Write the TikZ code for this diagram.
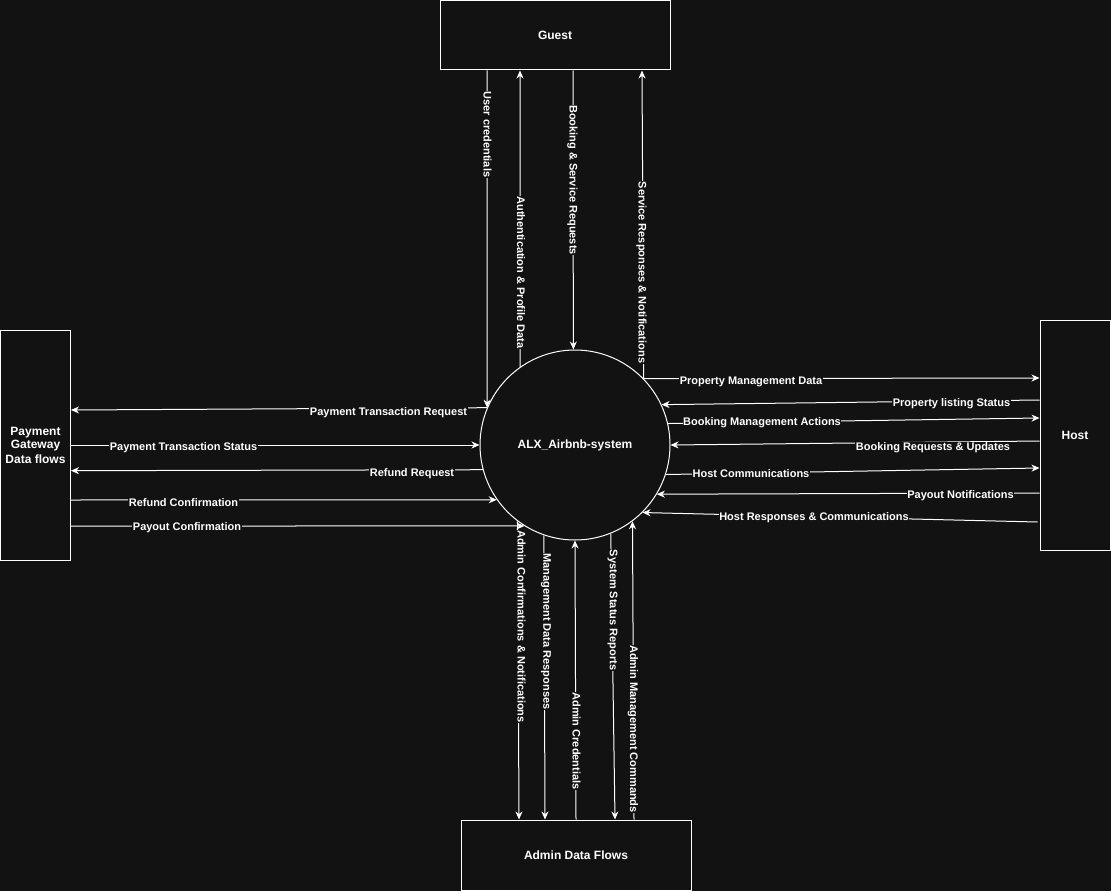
\documentclass[tikz,border=0pt]{standalone}
\usepackage{fontspec}
\setmainfont{Liberation Sans}
\usetikzlibrary{arrows.meta}
\definecolor{bg}{HTML}{121212}
\begin{document}
\begin{tikzpicture}[x=1pt,y=-1pt,
  box/.style={draw=white, line width=1pt, text=white, font=\bfseries\fontsize{12}{14.4}\selectfont, align=center, inner sep=0pt},
  flow/.style={draw=white, line width=1pt, -{Stealth[length=8pt,width=7pt,inset=2.5pt]}},
  lbl/.style={fill=bg, text=white, font=\bfseries\fontsize{11}{13}\selectfont, inner sep=0.6pt},
  vlbl/.style={lbl, rotate=-90}]
\fill[bg] (0,0) rectangle (1111,891);
\useasboundingbox (0,0) rectangle (1111,891);
% entities
\node[box, minimum width=230pt, minimum height=69pt] (guest) at (555,35.5) {\raisebox{-1pt}{Guest}};
\node[box, minimum width=70pt, minimum height=230pt] (pay) at (35.5,445) {\raisebox{-1.5pt}{\shortstack{Payment\\Gateway\\Data flows}}};
\node[box, minimum width=70pt, minimum height=230pt] (host) at (1075,435) {\raisebox{-1pt}{Host}};
\node[box, minimum width=230pt, minimum height=70pt] (admin) at (576,855) {\raisebox{-1pt}{Admin Data Flows}};
\node[box, circle, minimum size=190pt] (sys) at (575,445) {\raisebox{-1pt}{ALX\_Airbnb-system}};
% guest flows
\draw[flow] ([xshift=-68pt]guest.south) -- (sys.157.75) node[vlbl] at (487.5,134.5) {User credentials};
\draw[flow] (sys.125.4) -- ([xshift=-35pt]guest.south) node[vlbl] at (521,272.5) {Authentication \& Profile Data};
\draw[flow] ([xshift=18pt]guest.south) -- (sys.91.2) node[vlbl] at (572.5,180) {Booking \& Service Requests};
\draw[flow] (sys.44.3) -- ([xshift=87pt]guest.south) node[vlbl] at (641.5,272.5) {Service Responses \& Notifications};
% payment flows
\draw[flow] (sys.157.75) -- ([yshift=35pt]pay.east) node[lbl] at (388.5,412.5) {Payment Transaction Request};
\draw[flow] (pay.east) -- (sys.west) node[lbl] at (183.5,447.5) {Payment Transaction Status};
\draw[flow] (sys.195.7) -- ([yshift=-25.7pt]pay.east) node[lbl] at (412,474) {Refund Request};
\draw[flow] ([yshift=-55pt]pay.east) -- (sys.215.4) node[lbl] at (183.5,502.5) {Refund Confirmation};
\draw[flow] ([yshift=-81pt]pay.east) -- (sys.238.5) node[lbl] at (187,528) {Payout Confirmation};
% host flows
\draw[flow] (sys.44.3) -- ([yshift=57pt]host.west) node[lbl] at (751,381.5) {Property Management Data};
\draw[flow] ([yshift=35pt]host.west) -- (sys.25.2) node[lbl] at (951.5,404) {Property listing Status};
\draw[flow] (sys.13.3) -- ([yshift=17pt]host.west) node[lbl] at (762,423) {Booking Management Actions};
\draw[flow] ([yshift=-6pt]host.west) -- (sys.0) node[lbl] at (933,447.5) {Booking Requests \& Updates};
\draw[flow] (sys.342.9) -- ([yshift=-33pt]host.west) node[lbl] at (751,474) {Host Communications};
\draw[flow] ([yshift=-58pt]host.west) -- (sys.329.65) node[lbl] at (960.5,496) {Payout Notifications};
\draw[flow] ([xshift=-2pt,yshift=-87pt]host.west) -- (sys.315.2) node[lbl] at (814,518) {Host Responses \& Communications};
% admin flows
\draw[flow] (sys.233.9) -- ([xshift=-57pt]admin.north) node[vlbl] at (521.5,626.5) {Admin Confirmations \& Notifications};
\draw[flow] (sys.251.6) -- ([xshift=-31pt]admin.north) node[vlbl] at (546,631.5) {Management Data Responses};
\draw[flow] (admin.north) -- (sys.270.6) node[vlbl] at (576.5,741) {Admin Credentials};
\draw[flow] (sys.292.3) -- ([xshift=39pt]admin.north) node[vlbl] at (612.5,610) {System Status Reports};
\draw[flow] ([xshift=58pt]admin.north) -- (sys.307.6) node[vlbl] at (633,729) {Admin Management Commands};
\end{tikzpicture}
\end{document}
